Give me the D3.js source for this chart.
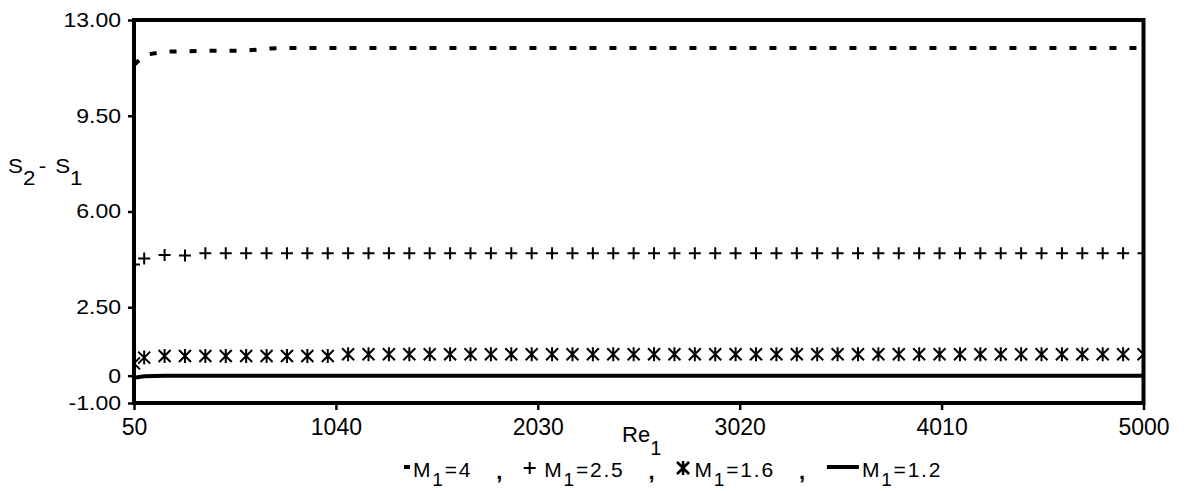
<!DOCTYPE html>
<html>
<head>
<meta charset="utf-8">
<script src="https://cdn.jsdelivr.net/npm/d3@7"></script>
<style>
  body { margin: 0; background: #fff; }
  text { font-family: "Liberation Sans", Arial, sans-serif; fill: #000; }
</style>
</head>
<body>
<script>
// Re_1 sample points
var reValues = [50, 100, 200, 300, 400, 500, 600, 700, 800, 900,
  1000, 1100, 1200, 1300, 1400, 1500, 1600, 1700, 1800, 1900,
  2000, 2100, 2200, 2300, 2400, 2500, 2600, 2700, 2800, 2900,
  3000, 3100, 3200, 3300, 3400, 3500, 3600, 3700, 3800, 3900,
  4000, 4100, 4200, 4300, 4400, 4500, 4600, 4700, 4800, 4900, 5000];

// S2 - S1 for M1 = 4 (dashed)
var m4Values = [11.35, 11.72, 11.84, 11.86, 11.87, 11.88, 11.88, 11.95, 11.98, 11.98,
  11.98, 11.98, 11.98, 11.98, 11.98, 11.98, 11.98, 11.98, 11.98, 11.98,
  11.98, 11.98, 11.98, 11.98, 11.98, 11.98, 11.98, 11.98, 11.98, 11.98,
  11.98, 11.98, 11.98, 11.98, 11.98, 11.98, 11.98, 11.98, 11.98, 11.98,
  11.98, 11.98, 11.98, 11.98, 11.98, 11.98, 11.98, 11.98, 11.98, 11.98, 11.98];

// M1 = 2.5 (plus markers)
var m25Values = [4.06, 4.28, 4.41, 4.39, 4.47, 4.47, 4.47, 4.47, 4.47, 4.47,
  4.47, 4.47, 4.47, 4.47, 4.47, 4.47, 4.47, 4.47, 4.47, 4.47,
  4.47, 4.47, 4.47, 4.47, 4.47, 4.47, 4.47, 4.47, 4.47, 4.47,
  4.47, 4.47, 4.47, 4.47, 4.47, 4.47, 4.47, 4.47, 4.47, 4.47,
  4.47, 4.47, 4.47, 4.47, 4.47, 4.47, 4.47, 4.47, 4.47, 4.47, 4.47];

// M1 = 1.6 (asterisk markers)
var m16Values = [0.45, 0.66, 0.72, 0.72, 0.72, 0.72, 0.72, 0.72, 0.72, 0.72,
  0.72, 0.78, 0.78, 0.78, 0.78, 0.78, 0.78, 0.78, 0.78, 0.78,
  0.78, 0.78, 0.78, 0.78, 0.78, 0.78, 0.78, 0.78, 0.78, 0.78,
  0.78, 0.78, 0.78, 0.78, 0.78, 0.78, 0.78, 0.78, 0.78, 0.78,
  0.78, 0.78, 0.78, 0.78, 0.78, 0.78, 0.78, 0.78, 0.78, 0.78, 0.78];

// M1 = 1.2 (solid)
var m12Values = [-0.08, -0.02, 0, 0, 0, 0, 0, 0, 0, 0,
  0, 0, 0, 0, 0, 0, 0, 0, 0, 0,
  0, 0, 0, 0, 0, 0, 0, 0, 0, 0,
  0, 0, 0, 0, 0, 0, 0, 0, 0, 0,
  0, 0, 0, 0, 0, 0, 0, 0, 0, 0, 0];

var xTicks = [50, 1040, 2030, 3020, 4010, 5000];
var yTicks = [-1, 0, 2.5, 6, 9.5, 13];
var yTickLabels = ["-1.00", "0", "2.50", "6.00", "9.50", "13.00"];
var legendLabels = ["4", "2.5", "1.6", "1.2"];
var legendSymbols = ["dash", "plus", "star", "line"];

var margin = {top: 20, right: 53.5, bottom: 88, left: 134},
    width = 1197 - margin.left - margin.right,
    height = 491 - margin.top - margin.bottom;

var x = d3.scaleLinear().domain([50, 5000]).range([0, width]);
var y = d3.scaleLinear().domain([-1, 13]).range([height, 0]);

var plusPath = "M-6,0H6M0,-6V6";
var starPath = "M0,-7V7M-6,-6L6,6M-6,6L6,-6";

var svg = d3.select("body").append("svg")
    .attr("width", 1197)
    .attr("height", 491)
    .style("background", "#fff");

var g = svg.append("g")
    .attr("transform", "translate(" + margin.left + "," + margin.top + ")");

g.append("clipPath").attr("id", "plot_clip")
  .append("rect").attr("width", width).attr("height", height);

var plot = g.append("g").attr("clip-path", "url(#plot_clip)");

var line = d3.line()
    .x(function(d, i) { return x(reValues[i]); })
    .y(function(d) { return y(d); });

// M1 = 4, dashed
plot.append("path")
    .attr("d", line(m4Values))
    .attr("fill", "none")
    .attr("stroke", "#000")
    .attr("stroke-width", 4)
    .attr("stroke-dasharray", "7,13");

// M1 = 1.2, solid
plot.append("path")
    .attr("d", line(m12Values))
    .attr("fill", "none")
    .attr("stroke", "#000")
    .attr("stroke-width", 4);

// M1 = 2.5, plus markers
plot.selectAll("path.plus")
    .data(m25Values)
  .enter().append("path")
    .attr("class", "plus")
    .attr("transform", function(d, i) { return "translate(" + x(reValues[i]) + "," + y(d) + ")"; })
    .attr("d", plusPath)
    .attr("fill", "none")
    .attr("stroke", "#000")
    .attr("stroke-width", 2);

// M1 = 1.6, asterisk markers
plot.selectAll("path.star")
    .data(m16Values)
  .enter().append("path")
    .attr("class", "star")
    .attr("transform", function(d, i) { return "translate(" + x(reValues[i]) + "," + y(d) + ")"; })
    .attr("d", starPath)
    .attr("fill", "none")
    .attr("stroke", "#000")
    .attr("stroke-width", 2);

// frame
g.append("rect")
    .attr("width", width)
    .attr("height", height)
    .attr("fill", "none")
    .attr("stroke", "#000")
    .attr("stroke-width", 4);

// x axis
var xAxis = g.append("g")
    .attr("transform", "translate(0," + height + ")")
    .call(d3.axisBottom(x).tickValues(xTicks).tickSize(7).tickPadding(9).tickFormat(d3.format("d")));
xAxis.select(".domain").remove();
xAxis.attr("font-family", null).attr("font-size", null);
xAxis.selectAll("line").attr("stroke-width", 2.5);
xAxis.selectAll("text").style("font-size", "23px");

// y axis
var yAxis = g.append("g")
    .call(d3.axisLeft(y).tickValues(yTicks).tickSize(6)
      .tickFormat(function(d, i) { return yTickLabels[i]; }));
yAxis.select(".domain").remove();
yAxis.attr("font-family", null).attr("font-size", null);
yAxis.selectAll("line").attr("stroke-width", 2.5);
yAxis.selectAll("text")
    .style("font-size", "20px")
    .attr("x", -11.3)
    .attr("transform", "scale(1.15,1)");

// axis titles
var xTitle = svg.append("text")
    .attr("x", 622)
    .attr("y", 442)
    .style("font-size", "22px")
    .text("Re");
xTitle.append("tspan").attr("dy", 13).style("font-size", "20px").text("1");

var yTitle = svg.append("text")
    .attr("transform", "translate(8,173) scale(1.12,1)")
    .style("font-size", "20px")
    .text("S");
yTitle.append("tspan").attr("dy", 12).text("2");
yTitle.append("tspan").attr("dy", -12).attr("dx", 3).text("-");
yTitle.append("tspan").attr("dx", 8).text("S");
yTitle.append("tspan").attr("dy", 12).text("1");

// legend
var legend = svg.append("g").attr("transform", "translate(0,467)");
var symWidth = {dash: 6, plus: 11, star: 13, line: 32};
var symGap = {dash: 3, plus: 9, star: 5, line: 3};
var cursor = 404;

legendLabels.forEach(function(lab, i) {
  var sym = legendSymbols[i];
  var sw = symWidth[sym];
  if (sym === "dash" || sym === "line") {
    legend.append("line")
        .attr("x1", cursor).attr("x2", cursor + sw)
        .attr("y1", 0).attr("y2", 0)
        .attr("stroke", "#000").attr("stroke-width", 4);
  } else {
    legend.append("path")
        .attr("transform", "translate(" + (cursor + sw / 2) + ",1)")
        .attr("d", sym === "plus" ? plusPath : starPath)
        .attr("fill", "none")
        .attr("stroke", "#000")
        .attr("stroke-width", sym === "plus" ? 2 : 2.6);
  }
  var tx = cursor + sw + symGap[sym];
  var t = legend.append("text")
      .attr("x", tx)
      .attr("y", 10)
      .style("font-size", "21px")
      .style("letter-spacing", "1.8px")
      .text("M");
  t.append("tspan").attr("dy", 9).style("font-size", "19px").text("1");
  t.append("tspan").attr("dy", -9).text("=" + lab);
  var tEnd = tx + t.node().getComputedTextLength();
  if (i < legendLabels.length - 1) {
    legend.append("text")
        .attr("x", tEnd + 24)
        .attr("y", 12)
        .style("font-size", "22px")
        .style("font-weight", "bold")
        .text(",");
    cursor = tEnd + 52;
  }
});
</script>
</body>
</html>
